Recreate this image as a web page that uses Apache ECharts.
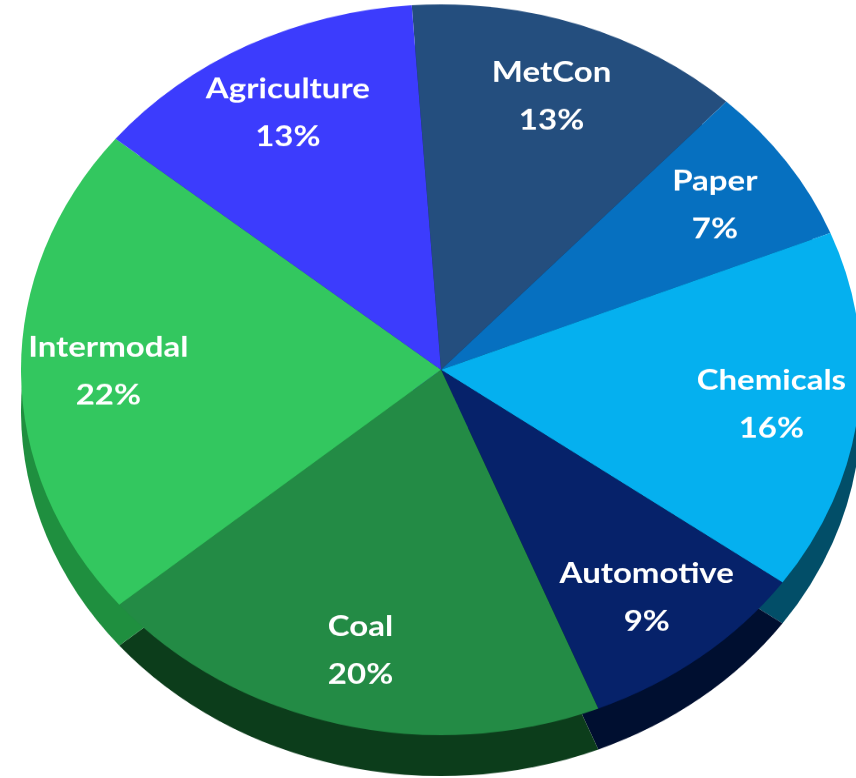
<!DOCTYPE html>
<html><head><meta charset="utf-8">
<script src="https://cdn.jsdelivr.net/npm/echarts@6/dist/echarts.min.js"></script>
<style>
html,body{margin:0;padding:0;background:#fff;overflow:hidden;width:856px;height:778px;}
#wrap{width:856px;height:778px;overflow:hidden;position:relative;}
#chart{width:856px;height:894px;transform:scaleY(0.87);transform-origin:0 0;}
</style></head>
<body><div id="wrap"><div id="chart"></div></div>
<script>
const categories = ['MetCon','Paper','Chemicals','Automotive','Coal','Intermodal','Agriculture'];
const values = [13, 7, 16, 9, 20, 22, 13];
const topColors = ['#244e7e','#0670c0','#05b0ef','#06226a','#238b45','#33c75f','#3c3cfd'];
const sideColors = ['#13294a','#034070','#024e68','#000f30','#0c3d1b','#1f8f3f','#2020a0'];

const chart = echarts.init(document.getElementById('chart'), null, {renderer:'canvas'});
const cx = 441, cy = 425, R = 420, depth = 47;
const mk = (cols) => categories.map((c,i)=>({name:c, value:values[i], itemStyle:{color:cols[i]}}));
chart.setOption({
  animation:false,
  series:[
    {type:'pie', silent:true, center:[cx, cy+depth], radius:[0,R], startAngle:94, clockwise:true,
     label:{show:false}, labelLine:{show:false}, data: mk(sideColors), itemStyle:{borderWidth:0}},
    {type:'pie', silent:true, center:[cx, cy], radius:[0,R], startAngle:94, clockwise:true,
     label:{show:false}, labelLine:{show:false}, data: mk(topColors), itemStyle:{borderWidth:0}},
    {type:'pie', silent:true, center:[cx, cy], radius:[R*0.57,R], startAngle:94, clockwise:true,
     itemStyle:{color:'rgba(0,0,0,0)', borderWidth:0},
     label:{show:true, position:'inside', formatter:'{b}\n{d}%', color:'#fff',
       fontFamily:'Lato', fontWeight:'bold', fontSize:33, lineHeight:55, textBorderWidth:0},
     labelLine:{show:false},
     data: categories.map((c,i)=>({name:c, value:values[i]}))}
  ]
});
</script></body></html>
